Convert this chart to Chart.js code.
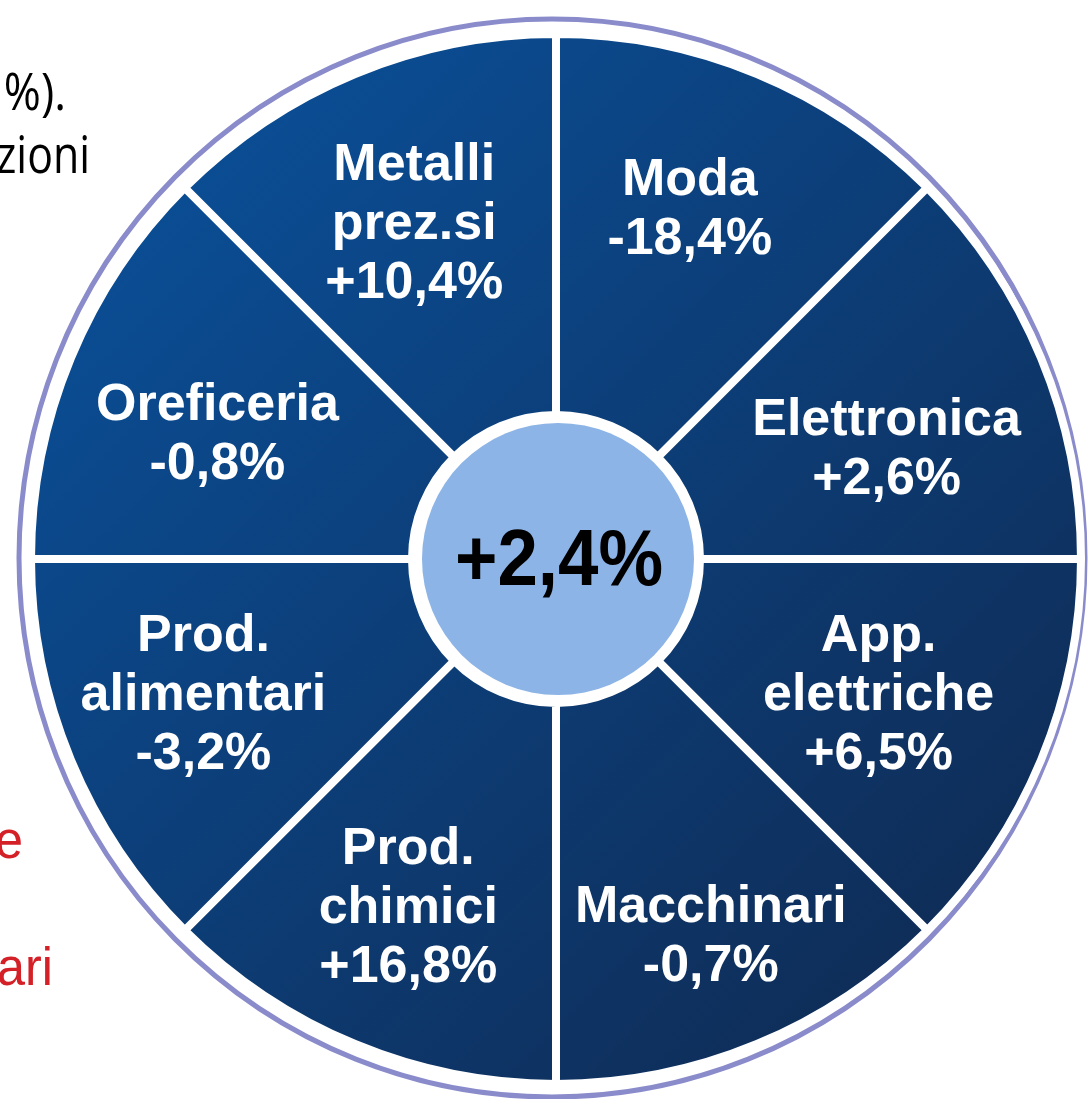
<!DOCTYPE html>
<html lang="it">
<head>
<meta charset="UTF-8">
<title>Variazioni per settore</title>
<script src="https://cdn.jsdelivr.net/npm/chart.js"></script>
<style>
  html, body { margin: 0; padding: 0; background: #fff; }
  canvas { display: block; }
</style>
</head>
<body>
<canvas id="wheel" width="1088" height="1099"></canvas>
<script>
// sectors clockwise from 12 o'clock
const sectorNames = [
    ['Moda'],
    ['Elettronica'],
    ['App.', 'elettriche'],
    ['Macchinari'],
    ['Prod.', 'chimici'],
    ['Prod.', 'alimentari'],
    ['Oreficeria'],
    ['Metalli', 'prez.si']
];
const sectorChange = [-18.4, 2.6, 6.5, -0.7, 16.8, -3.2, -0.8, 10.4];
const sliceWeights = [1, 1, 1, 1, 1, 1, 1, 1];
const totalChange = 2.4;

// cropped text from the surrounding slide
const sideTextBlack = ['%).', 'zioni'];
const sideTextRed = ['e', 'ari'];

const fmt = v => (v > 0 ? '+' : '-') + Math.abs(v).toFixed(1).replace('.', ',') + '%';
const FONT = "'Liberation Sans', Arial, sans-serif";

function squeezedText(ctx, text, x, y, sx) {
    ctx.save();
    ctx.translate(x, y);
    ctx.scale(sx, 1);
    ctx.fillText(text, 0, 0);
    ctx.restore();
}

const wheelPlugin = {
    id: 'wheelPlugin',
    beforeDatasetsDraw(chart) {
        const ctx = chart.ctx;
        const arc = chart.getDatasetMeta(0).data[0];
        // thin lavender outer ring
        ctx.save();
        ctx.strokeStyle = '#8a8bcb';
        ctx.lineWidth = 5;
        ctx.beginPath();
        ctx.ellipse(arc.x - 4, arc.y - 1, 533, 539, 0, 0, Math.PI * 2);
        ctx.stroke();
        ctx.restore();
    },
    afterDatasetsDraw(chart) {
        const ctx = chart.ctx;
        const arcs = chart.getDatasetMeta(0).data;
        const cx = arcs[0].x, cy = arcs[0].y;

        // center disc
        ctx.save();
        ctx.fillStyle = '#8db4e6';
        ctx.beginPath();
        ctx.arc(cx + 2, cy, 136, 0, Math.PI * 2);
        ctx.fill();

        ctx.fillStyle = '#000';
        ctx.font = 'bold 79px ' + FONT;
        ctx.textAlign = 'center';
        ctx.textBaseline = 'alphabetic';
        squeezedText(ctx, fmt(totalChange), cx + 3, cy + 26, 0.92);
        ctx.restore();

        // sector labels
        const nudge = [[-4, -20], [-2, 25], [-10, -5], [17, 41], [-10, 13], [-20, -5], [-6, 10], [-4, -6]];
        const lineH = 59, cap = 37;
        ctx.save();
        ctx.fillStyle = '#fff';
        ctx.font = 'bold 52px ' + FONT;
        ctx.textAlign = 'center';
        ctx.textBaseline = 'alphabetic';
        arcs.forEach((a, i) => {
            const mid = (a.startAngle + a.endAngle) / 2;
            const x = a.x + Math.cos(mid) * 360 + nudge[i][0];
            const y = a.y + Math.sin(mid) * 360 + nudge[i][1];
            const lines = sectorNames[i].concat([fmt(sectorChange[i])]);
            const h = cap + (lines.length - 1) * lineH;
            let base = y - h / 2 + cap;
            lines.forEach(t => {
                ctx.fillText(t, x, base);
                base += lineH;
            });
        });
        ctx.restore();

        // cropped side text
        ctx.save();
        ctx.textAlign = 'right';
        ctx.textBaseline = 'alphabetic';
        ctx.font = "51px 'Open Sans', 'Noto Sans', sans-serif";
        ctx.fillStyle = '#000';
        squeezedText(ctx, sideTextBlack[0], 66, 110, 0.88);
        squeezedText(ctx, sideTextBlack[1], 90, 173, 0.84);
        ctx.font = '53px ' + FONT;
        ctx.fillStyle = '#d42027';
        squeezedText(ctx, sideTextRed[0], 23, 858, 0.95);
        squeezedText(ctx, sideTextRed[1], 53, 985, 0.95);
        ctx.restore();
    }
};

function sliceFill(context) {
    const chart = context.chart;
    const area = chart.chartArea;
    if (!area) return '#0b3f7c';
    const g = chart.ctx.createLinearGradient(area.left + 100, area.top + 100, area.right - 100, area.bottom - 100);
    g.addColorStop(0, '#0a4f98');
    g.addColorStop(1, '#0f2b54');
    return g;
}

const chart = new Chart(document.getElementById('wheel'), {
    type: 'doughnut',
    data: {
        labels: sectorNames.map(n => n.join(' ')),
        datasets: [{
            data: sliceWeights,
            backgroundColor: sliceFill,
            borderColor: '#ffffff',
            borderWidth: 8,
            borderAlign: 'center'
        }]
    },
    options: {
        responsive: false,
        animation: false,
        events: [],
        rotation: 0,
        radius: 525,
        cutout: (144 / 525 * 100) + '%',
        layout: { padding: { left: 24, top: 19, right: 0, bottom: 0 } },
        plugins: {
            legend: { display: false },
            tooltip: { enabled: false }
        }
    },
    plugins: [wheelPlugin]
});
</script>
</body>
</html>
